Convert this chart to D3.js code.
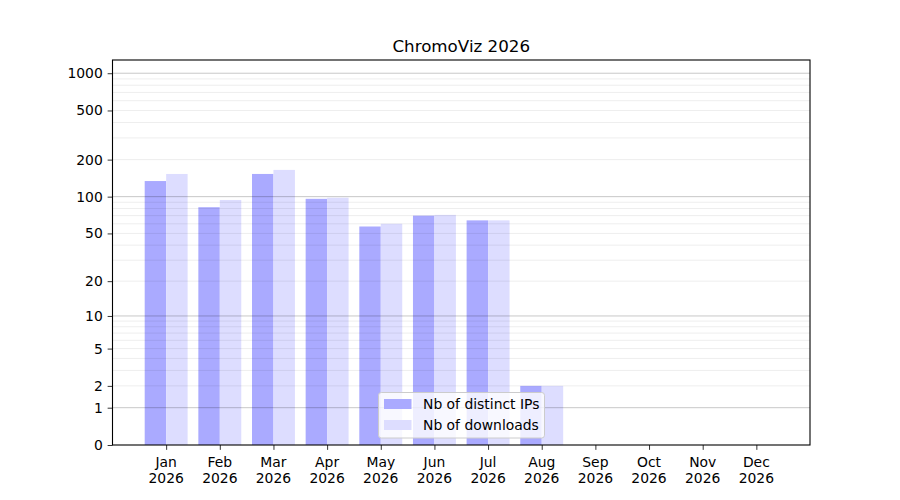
<!DOCTYPE html>
<html>
<head>
<meta charset="utf-8">
<script src="https://cdn.jsdelivr.net/npm/d3@7"></script>
<style>
  body { margin: 0; background: #fff; }
  svg { font-family: "DejaVu Sans", sans-serif; }
</style>
</head>
<body>
<svg id="chart" width="900" height="500"></svg>
<script>
const months = ["Jan","Feb","Mar","Apr","May","Jun","Jul","Aug","Sep","Oct","Nov","Dec"];
const year = "2026";
const distinctIPs = [134, 82, 153, 96, 57, 70, 64, 2, 0, 0, 0, 0];
const downloads   = [153, 94, 165, 98, 60, 71, 64, 2, 0, 0, 0, 0];
const yTicks = [0, 1, 2, 5, 10, 20, 50, 100, 200, 500, 1000];
const majorGrid = [1, 10, 100, 1000];
const minorGrid = [2,3,4,5,6,7,8,9,20,30,40,50,60,70,80,90,200,300,400,500,600,700,800,900];
const seriesNames = ["Nb of distinct IPs", "Nb of downloads"];
const title = "ChromoViz 2026";

const svg = d3.select("#chart");
const L = 112.5, R = 810, T = 60, B = 445;
const x = d3.scaleLinear().domain([0, 13]).range([L, R]);
const y = d3.scaleSymlog().constant(1).domain([0, 1279]).range([B, T]);
const colors = ["#aaaaff", "#ddddff"];
const bw = 0.4;

// bars
const gb = svg.append("g");
gb.selectAll("rect.ip").data(distinctIPs).join("rect")
  .attr("x", (d,i) => x(i+1-bw)).attr("width", (d,i) => x(i+1) - x(i+1-bw))
  .attr("y", d => y(d)).attr("height", d => y(0) - y(d))
  .attr("fill", colors[0]);
gb.selectAll("rect.dl").data(downloads).join("rect")
  .attr("x", (d,i) => x(i+1)).attr("width", (d,i) => x(i+1+bw) - x(i+1))
  .attr("y", d => y(d)).attr("height", d => y(0) - y(d))
  .attr("fill", colors[1]);

// grid on top
const gg = svg.append("g");
gg.selectAll("line.minor").data(minorGrid).join("line")
  .attr("x1", L).attr("x2", R).attr("y1", d => y(d)).attr("y2", d => y(d))
  .attr("stroke", "#000").attr("stroke-opacity", 0.07).attr("stroke-width", 1);
gg.selectAll("line.major").data(majorGrid).join("line")
  .attr("x1", L).attr("x2", R).attr("y1", d => y(d)).attr("y2", d => y(d))
  .attr("stroke", "#000").attr("stroke-opacity", 0.22).attr("stroke-width", 1);

// axes
const yAxis = d3.axisLeft(y).tickValues(yTicks).tickFormat(d3.format("d")).tickSize(4.86).tickPadding(4.86);
const ga = svg.append("g").attr("transform", `translate(${L},0)`).call(yAxis);
ga.select(".domain").remove();
ga.selectAll(".tick line").attr("stroke", "#000").attr("stroke-width", 0.8);
ga.selectAll(".tick text").attr("font-size", 13.9).attr("fill", "#000").attr("font-family", "DejaVu Sans");

const xAxis = d3.axisBottom(x).tickValues(d3.range(1, 13)).tickFormat("").tickSize(4.86);
const gx = svg.append("g").attr("transform", `translate(0,${B})`).call(xAxis);
gx.select(".domain").remove();
gx.selectAll(".tick line").attr("stroke", "#000").attr("stroke-width", 0.8);
const gxl = svg.append("g");
months.forEach((m, i) => {
  const t = gxl.append("text").attr("x", x(i+1)).attr("text-anchor", "middle")
    .attr("font-size", 13.9).attr("fill", "#000");
  t.append("tspan").attr("x", x(i+1)).attr("y", 467).text(m);
  t.append("tspan").attr("x", x(i+1)).attr("y", 483).text(year);
});

// frame
svg.append("rect").attr("x", L).attr("y", T).attr("width", R-L).attr("height", B-T)
  .attr("fill", "none").attr("stroke", "#000").attr("stroke-width", 1.1);

// title
svg.append("text").attr("x", (L+R)/2).attr("y", 51.5).attr("text-anchor", "middle")
  .attr("font-size", 16.7).attr("fill", "#000").text(title);

// legend
const lg = svg.append("g");
lg.append("rect").attr("x", 378.5).attr("y", 392.5).attr("width", 166).attr("height", 45.5)
  .attr("rx", 2.8).attr("fill", "#fff").attr("fill-opacity", 0.8)
  .attr("stroke", "#cccccc").attr("stroke-width", 1);
seriesNames.forEach((n, i) => {
  lg.append("rect").attr("x", 384).attr("y", 399 + i*21).attr("width", 27.5).attr("height", 10)
    .attr("fill", colors[i]);
  lg.append("text").attr("x", 423).attr("y", 409 + i*21).attr("font-size", 13.9)
    .attr("fill", "#000").text(n);
});
</script>
</body>
</html>
